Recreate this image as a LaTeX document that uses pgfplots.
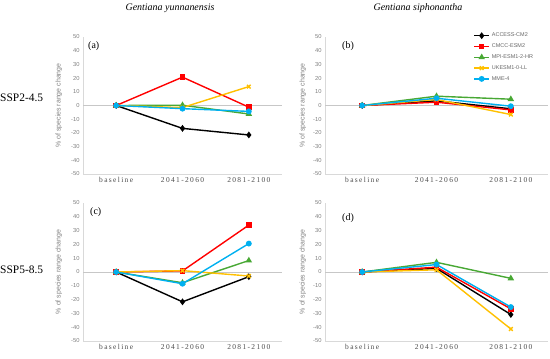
\documentclass[border=0pt]{standalone}
\usepackage{fontspec}
\setmainfont{Liberation Serif}
\setsansfont{Liberation Sans}
\usepackage{pgfplots}
\pgfplotsset{compat=1.18}

\definecolor{cCMCC}{RGB}{255,0,0}
\definecolor{cMPI}{RGB}{72,168,52}
\definecolor{cUK}{RGB}{255,192,0}
\definecolor{cMME}{RGB}{0,176,240}

\pgfplotsset{
  panel/.style={
    scale only axis, height=137bp,
    xmin=-0.5, xmax=2.5, ymin=-50, ymax=50,
    xtick={0,1,2}, xticklabels={baseline,2041-2060,2081-2100},
    ytick={-50,-40,...,50},
    major tick length=0pt,
    axis x line=bottom, axis y line=left,
    axis line style={draw=black!15, line width=0.6bp, -},
    extra y ticks={0}, extra y tick labels={},
    extra y tick style={grid=major, major grid style={draw=black!22, line width=0.8bp}},
    /pgf/number format/assume math mode=true,
    yticklabel style={font=\sffamily\fontsize{5.8}{6}\selectfont, text=black!50},
    xticklabel style={font=\fontsize{7.5}{8}\selectfont\addfontfeatures{LetterSpace=18}, text=black!70},
    ylabel={\% of species range change},
    ylabel style={font=\sffamily\fontsize{7}{8}\selectfont, text=black!50, anchor=center},
    clip=false,
    every axis plot/.append style={line width=1.4bp},
  },
  leftp/.style={panel, width=199bp, ylabel style={at={(axis description cs:-0.121,0.5)}}},
  rightp/.style={panel, width=223bp, ylabel style={at={(axis description cs:-0.099,0.5)}}},
  sACC/.style={color=black, mark=diamond*, mark size=2.3bp, mark options={solid}},
  sCMCC/.style={color=cCMCC, mark=square*, mark size=2bp, mark options={solid}},
  sMPI/.style={color=cMPI, mark=triangle*, mark size=2.4bp, mark options={solid}},
  sUK/.style={color=cUK, mark=x, mark size=2.6bp, mark options={solid}},
  sMME/.style={color=cMME, mark=*, mark size=2.2bp, mark options={solid}},
}

\begin{document}
\begin{tikzpicture}
\path[use as bounding box] (0,0) rectangle (550bp,-359bp);

% (a)
\begin{axis}[leftp, at={(83bp,-174bp)}, anchor=south west]
\addplot[sACC] coordinates {(0,0) (1,-16.7) (2,-21.5)};
\addplot[sCMCC] coordinates {(0,0) (1,20.7) (2,-1.2)};
\addplot[sMPI] coordinates {(0,0) (1,0.2) (2,-6.2)};
\addplot[sUK] coordinates {(0,0) (1,-1.5) (2,13.8)};
\addplot[sMME] coordinates {(0,0) (1,-2.3) (2,-4.3)};
\end{axis}

% (b)
\begin{axis}[rightp, at={(325bp,-174bp)}, anchor=south west,
  legend style={at={(axis description cs:0.665,1.045)}, anchor=north west, draw=none, fill=none,
    font=\sffamily\fontsize{5.5}{6}\selectfont, text=black!60, inner sep=0pt, row sep=1.5bp,
    cells={anchor=west}},
  legend image code/.code={\draw[mark repeat=2,mark phase=2] plot coordinates {(0bp,0bp) (7.5bp,0bp) (15bp,0bp)};}]
\addplot[sACC] coordinates {(0,0) (1,3.4) (2,-2.4)};
\addlegendentry{ACCESS-CM2}
\addplot[sCMCC] coordinates {(0,0) (1,2.4) (2,-3.2)};
\addlegendentry{CMCC-ESM2}
\addplot[sMPI] coordinates {(0,0) (1,6.8) (2,4.6)};
\addlegendentry{MPI-ESM1-2-HR}
\addplot[sUK] coordinates {(0,0) (1,4.4) (2,-6.6)};
\addlegendentry{UKESM1-0-LL}
\addplot[sMME] coordinates {(0,0) (1,5.3) (2,-0.5)};
\addlegendentry{MME-4}
\end{axis}

% (c)
\begin{axis}[leftp, height=138bp, at={(83bp,-341bp)}, anchor=south west]
\addplot[sACC] coordinates {(0,0) (1,-21.6) (2,-3.4)};
\addplot[sCMCC] coordinates {(0,0) (1,0.8) (2,34)};
\addplot[sMPI] coordinates {(0,0) (1,-7.8) (2,8.3)};
\addplot[sUK] coordinates {(0,0) (1,1.0) (2,-2.9)};
\addplot[sMME] coordinates {(0,0) (1,-8.5) (2,20.6)};
\end{axis}

% (d)
\begin{axis}[rightp, height=138bp, at={(325bp,-341bp)}, anchor=south west]
\addplot[sACC] coordinates {(0,0) (1,2.6) (2,-30.8)};
\addplot[sCMCC] coordinates {(0,0) (1,3.5) (2,-26.7)};
\addplot[sMPI] coordinates {(0,0) (1,7.0) (2,-4.6)};
\addplot[sUK] coordinates {(0,0) (1,1.6) (2,-41.3)};
\addplot[sMME] coordinates {(0,0) (1,5.4) (2,-25.4)};
\end{axis}

\node[font=\itshape\fontsize{10}{12}\selectfont] at (170bp,-8bp) {Gentiana yunnanensis};
\node[font=\itshape\fontsize{10}{12}\selectfont] at (418bp,-8bp) {Gentiana siphonantha};
\node[anchor=west, inner sep=0pt, font=\fontsize{11.5}{12}\selectfont] at (0bp,-98bp) {SSP2-4.5};
\node[anchor=west, inner sep=0pt, font=\fontsize{11.5}{12}\selectfont] at (0bp,-270bp) {SSP5-8.5};
\node[anchor=west, inner sep=0pt, font=\fontsize{10}{12}\selectfont] at (88bp,-46bp) {(a)};
\node[anchor=west, inner sep=0pt, font=\fontsize{10}{12}\selectfont] at (342bp,-46bp) {(b)};
\node[anchor=west, inner sep=0pt, font=\fontsize{10}{12}\selectfont] at (90bp,-212bp) {(c)};
\node[anchor=west, inner sep=0pt, font=\fontsize{10}{12}\selectfont] at (342bp,-218bp) {(d)};
\end{tikzpicture}
\end{document}
